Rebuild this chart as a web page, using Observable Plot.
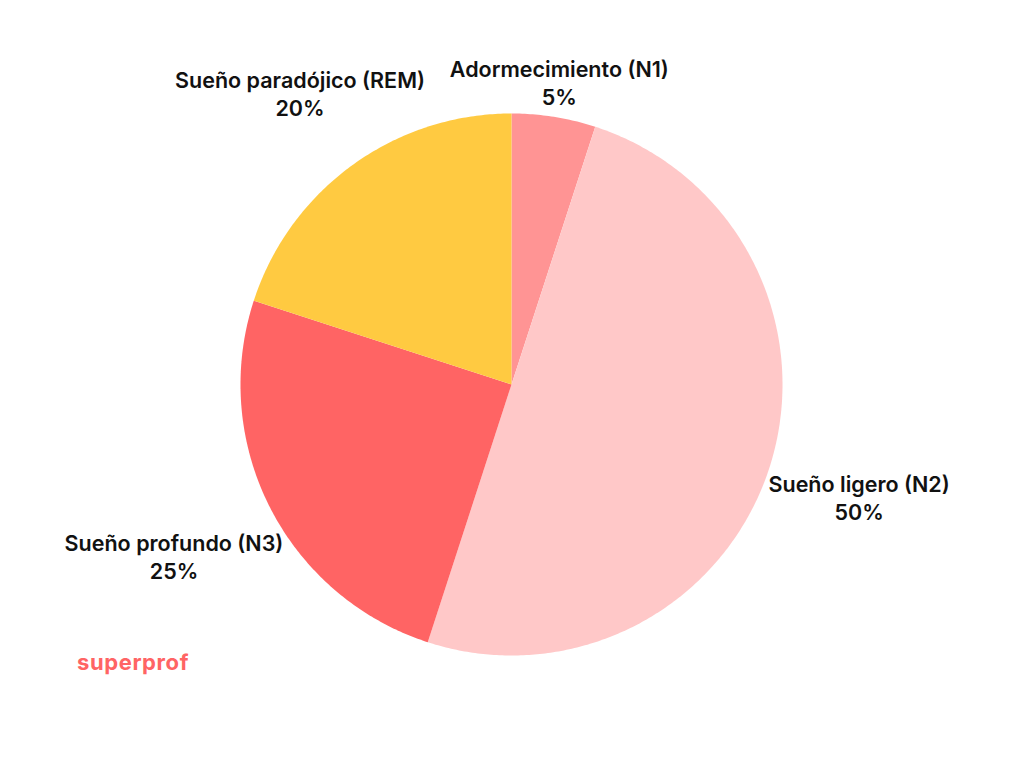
<!DOCTYPE html>
<html>
<head>
<meta charset="utf-8">
<script src="https://cdn.jsdelivr.net/npm/d3@7"></script>
<script src="https://cdn.jsdelivr.net/npm/@observablehq/plot@0.6"></script>
<style>
  html, body { margin: 0; padding: 0; background: #fff; }
  #wrap { position: relative; width: 1024px; height: 768px; overflow: hidden; }
  #logo { position: absolute; left: 77px; top: 649px; font: 700 22px Inter, "Noto Sans", sans-serif; color: #FF6464; letter-spacing: 0.6px; }
  svg { font-family: Inter, "Noto Sans", sans-serif; }
</style>
</head>
<body>
<div id="wrap"><div id="logo">superprof</div></div>
<script>
const categories = ["Adormecimiento (N1)", "Sueño ligero (N2)", "Sueño profundo (N3)", "Sueño paradójico (REM)"];
const values = [5, 50, 25, 20];
const colors = ["#FF9494", "#FFC8C8", "#FF6464", "#FFCA41"];

const W = 1024, H = 768;
const cx = 511, cy = 384, R = 271;
const FS = 21.5;
const FONT = `600 ${FS}px Inter`;

const total = d3.sum(values);
const pie = d3.pie().sort(null).value(d => d)(values);

// slice polygons in pixel-like units relative to centre (y upward)
const slices = pie.map((p, i) => {
  const n = Math.max(4, Math.ceil((p.endAngle - p.startAngle) / 0.01));
  const pts = [{x: 0, y: 0}];
  for (let k = 0; k <= n; k++) {
    const a = p.startAngle + (p.endAngle - p.startAngle) * k / n;
    pts.push({x: R * Math.sin(a), y: R * Math.cos(a)});
  }
  return {pts, color: colors[i]};
});

// label positions on mid-angle ray, pushed out by box half-extents
const ctx = document.createElement("canvas").getContext("2d");
ctx.font = FONT;
const labels = pie.map((p, i) => {
  const a = (p.startAngle + p.endAngle) / 2;
  const w = ctx.measureText(categories[i]).width;
  const h = 28;
  const t = R + 4 + (w / 2) * Math.abs(Math.sin(a)) + (h / 2) * Math.abs(Math.cos(a));
  return {x: t * Math.sin(a), y: t * Math.cos(a), text: categories[i] + "\n" + Math.round(values[i] / total * 100) + "%"};
});

const marks = slices.map(s => Plot.line(s.pts, {x: "x", y: "y", fill: s.color, stroke: "none", curve: "linear-closed"}));
marks.push(Plot.text(labels, {x: "x", y: "y", text: "text", fontSize: FS, fontWeight: 600, fill: "#111", lineHeight: 1.3, lineAnchor: "middle", textAnchor: "middle"}));

const chart = Plot.plot({
  width: W, height: H,
  margin: 0,
  x: {domain: [-cx, W - cx], axis: null},
  y: {domain: [-(H - cy), cy], axis: null},
  marks
});
document.getElementById("wrap").prepend(chart);
</script>
</body>
</html>
